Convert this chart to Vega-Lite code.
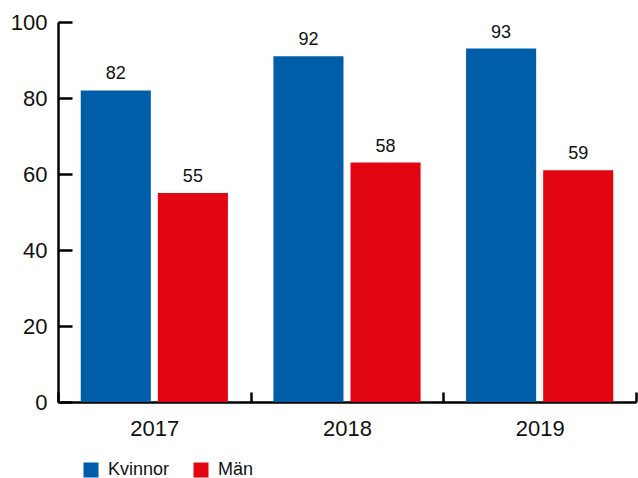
{
  "$schema": "https://vega.github.io/schema/vega-lite/v6.json",
  "width": 578,
  "height": 380,
  "autosize": {"type": "none"},
  "padding": {"left": 58, "top": 22, "right": 2, "bottom": 76},
  "background": "white",
  "config": {
    "view": {"stroke": null},
    "font": "Liberation Sans"
  },
  "data": {
    "values": [
      {"year": "2017", "gender": "Kvinnor", "value": 82, "label": "82"},
      {"year": "2017", "gender": "Män", "value": 55, "label": "55"},
      {"year": "2018", "gender": "Kvinnor", "value": 91, "label": "92"},
      {"year": "2018", "gender": "Män", "value": 63, "label": "58"},
      {"year": "2019", "gender": "Kvinnor", "value": 93, "label": "93"},
      {"year": "2019", "gender": "Män", "value": 61, "label": "59"}
    ]
  },
  "encoding": {
    "x": {
      "field": "year",
      "type": "nominal",
      "scale": {"paddingInner": 0, "paddingOuter": 0},
      "axis": {
        "title": null,
        "labelAngle": 0,
        "labelFontSize": 22,
        "labelColor": "#111",
        "labelPadding": 26,
        "domainColor": "#000",
        "domainWidth": 2.5,
        "tickColor": "#000",
        "tickWidth": 2.5,
        "tickSize": -10,
        "tickBand": "extent",
        "grid": false
      }
    },
    "xOffset": {
      "field": "gender",
      "type": "nominal",
      "sort": ["Kvinnor", "Män"],
      "scale": {"paddingInner": 0.091, "paddingOuter": 0.295}
    },
    "y": {
      "field": "value",
      "type": "quantitative",
      "scale": {"domain": [0, 100], "nice": false},
      "axis": {
        "title": null,
        "values": [0, 20, 40, 60, 80, 100],
        "labelFontSize": 22,
        "labelColor": "#111",
        "labelPadding": 25,
        "domainColor": "#000",
        "domainWidth": 2.5,
        "tickColor": "#000",
        "tickWidth": 2.5,
        "tickSize": -14,
        "grid": false
      }
    }
  },
  "layer": [
    {
      "mark": {"type": "bar"},
      "encoding": {
        "color": {
          "field": "gender",
          "type": "nominal",
          "scale": {"domain": ["Kvinnor", "Män"], "range": ["#005EA8", "#E20613"]},
          "legend": {
            "title": null,
            "orient": "none",
            "legendX": 24,
            "legendY": 439,
            "direction": "horizontal",
            "symbolType": "square",
            "symbolSize": 225,
            "symbolStrokeWidth": 0,
            "labelFontSize": 18,
            "labelColor": "#111",
            "labelOffset": 8,
            "columnPadding": 22,
            "padding": 0
          }
        }
      }
    },
    {
      "mark": {"type": "text", "dy": -11, "baseline": "alphabetic", "fontSize": 18, "color": "#111"},
      "encoding": {
        "text": {"field": "label", "type": "nominal"}
      }
    }
  ]
}
